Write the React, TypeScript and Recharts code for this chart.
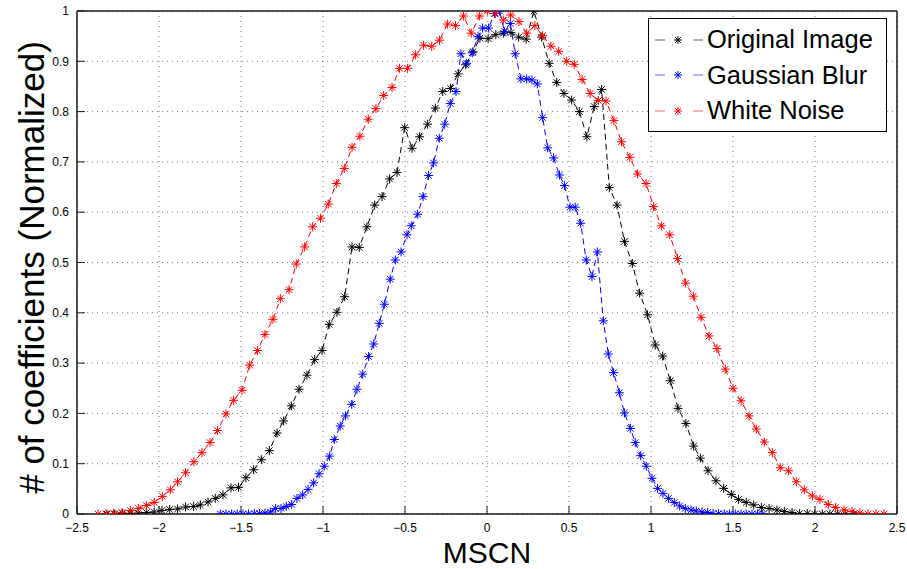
import React from "react";
import { LineChart, Line, XAxis, YAxis, CartesianGrid, Legend, Label } from "recharts";

const xTicks = [-2.5, -2, -1.5, -1, -0.5, 0, 0.5, 1, 1.5, 2, 2.5];
const yTicks = [0, 0.1, 0.2, 0.3, 0.4, 0.5, 0.6, 0.7, 0.8, 0.9, 1];

const originalImage: [number, number][] = [
  [-2.317, 0], [-2.27, 0], [-2.222, 0.001], [-2.175, 0.001], [-2.128, 0.002], [-2.077, 0.003],
  [-2.029, 0.004], [-1.982, 0.007], [-1.935, 0.009], [-1.887, 0.01], [-1.838, 0.014], [-1.789, 0.015],
  [-1.748, 0.018], [-1.701, 0.024], [-1.657, 0.031], [-1.61, 0.038], [-1.561, 0.052], [-1.515, 0.053],
  [-1.47, 0.072], [-1.423, 0.088], [-1.376, 0.108], [-1.327, 0.126], [-1.28, 0.161], [-1.24, 0.185],
  [-1.193, 0.215], [-1.146, 0.248], [-1.098, 0.276], [-1.051, 0.307], [-1.006, 0.325], [-0.962, 0.377],
  [-0.915, 0.401], [-0.868, 0.432], [-0.823, 0.531], [-0.779, 0.53], [-0.732, 0.571], [-0.685, 0.614],
  [-0.64, 0.631], [-0.594, 0.666], [-0.549, 0.679], [-0.502, 0.768], [-0.457, 0.727], [-0.411, 0.75],
  [-0.362, 0.775], [-0.315, 0.807], [-0.27, 0.84], [-0.222, 0.846], [-0.176, 0.875], [-0.13, 0.893],
  [-0.085, 0.919], [-0.043, 0.946], [0.007, 0.945], [0.054, 0.953], [0.1, 0.956], [0.146, 0.957],
  [0.193, 0.948], [0.239, 0.944], [0.286, 1.0], [0.333, 0.948], [0.379, 0.896], [0.425, 0.858],
  [0.469, 0.836], [0.516, 0.823], [0.563, 0.8], [0.609, 0.75], [0.654, 0.81], [0.699, 0.844],
  [0.746, 0.649], [0.793, 0.614], [0.838, 0.542], [0.886, 0.498], [0.931, 0.439], [0.979, 0.396],
  [1.026, 0.336], [1.071, 0.314], [1.118, 0.265], [1.165, 0.21], [1.213, 0.18], [1.26, 0.135],
  [1.301, 0.111], [1.348, 0.086], [1.396, 0.066], [1.443, 0.051], [1.49, 0.039], [1.534, 0.029],
  [1.581, 0.023], [1.626, 0.018], [1.673, 0.013], [1.72, 0.011], [1.768, 0.008], [1.813, 0.005],
  [1.86, 0.003], [1.906, 0.001], [1.953, 0.001], [1.998, 0], [2.045, 0], [2.091, 0],
  [2.138, 0], [2.185, 0], [2.235, 0],
];

const gaussianBlur: [number, number][] = [
  [-1.626, 0], [-1.591, 0], [-1.557, 0], [-1.523, 0], [-1.488, 0], [-1.454, 0],
  [-1.419, 0.001], [-1.387, 0.001], [-1.354, 0.002], [-1.321, 0.004], [-1.289, 0.011], [-1.256, 0.011],
  [-1.224, 0.015], [-1.191, 0.019], [-1.159, 0.031], [-1.124, 0.038], [-1.091, 0.049], [-1.057, 0.062],
  [-1.024, 0.08], [-0.992, 0.095], [-0.96, 0.115], [-0.931, 0.148], [-0.895, 0.175], [-0.863, 0.195],
  [-0.825, 0.218], [-0.793, 0.248], [-0.758, 0.278], [-0.722, 0.313], [-0.691, 0.338], [-0.657, 0.379],
  [-0.626, 0.417], [-0.59, 0.467], [-0.559, 0.505], [-0.524, 0.521], [-0.488, 0.555], [-0.462, 0.573],
  [-0.423, 0.596], [-0.39, 0.631], [-0.356, 0.673], [-0.326, 0.698], [-0.291, 0.747], [-0.258, 0.775],
  [-0.224, 0.816], [-0.189, 0.84], [-0.159, 0.915], [-0.124, 0.896], [-0.09, 0.917], [-0.055, 0.949],
  [-0.027, 0.966], [0.01, 0.966], [0.045, 0.995], [0.077, 1.0], [0.107, 0.959], [0.142, 0.975],
  [0.172, 0.915], [0.207, 0.865], [0.242, 0.865], [0.274, 0.863], [0.307, 0.855], [0.339, 0.788],
  [0.37, 0.728], [0.406, 0.708], [0.442, 0.674], [0.472, 0.653], [0.506, 0.61], [0.538, 0.61],
  [0.571, 0.578], [0.605, 0.505], [0.64, 0.472], [0.673, 0.521], [0.709, 0.384], [0.74, 0.318],
  [0.772, 0.281], [0.807, 0.241], [0.838, 0.201], [0.874, 0.17], [0.904, 0.142], [0.937, 0.116],
  [0.971, 0.095], [1.006, 0.071], [1.04, 0.051], [1.073, 0.041], [1.107, 0.031], [1.142, 0.023],
  [1.175, 0.016], [1.209, 0.011], [1.244, 0.008], [1.276, 0.006], [1.311, 0.004], [1.345, 0.003],
  [1.378, 0.001], [1.412, 0.001], [1.447, 0], [1.479, 0], [1.514, 0], [1.549, 0],
  [1.581, 0], [1.616, 0], [1.65, 0], [1.681, 0],
];

const whiteNoise: [number, number][] = [
  [-2.372, 0], [-2.323, 0], [-2.277, 0.001], [-2.226, 0.003], [-2.175, 0.007], [-2.126, 0.011],
  [-2.077, 0.017], [-2.029, 0.023], [-1.98, 0.035], [-1.931, 0.048], [-1.887, 0.064], [-1.838, 0.082],
  [-1.787, 0.104], [-1.738, 0.122], [-1.689, 0.142], [-1.643, 0.166], [-1.592, 0.199], [-1.545, 0.226],
  [-1.494, 0.246], [-1.447, 0.296], [-1.4, 0.325], [-1.354, 0.357], [-1.305, 0.387], [-1.26, 0.428],
  [-1.207, 0.446], [-1.163, 0.497], [-1.112, 0.531], [-1.063, 0.571], [-1.015, 0.588], [-0.968, 0.616],
  [-0.919, 0.657], [-0.87, 0.687], [-0.823, 0.729], [-0.775, 0.751], [-0.724, 0.785], [-0.677, 0.806],
  [-0.63, 0.832], [-0.579, 0.848], [-0.533, 0.886], [-0.484, 0.886], [-0.435, 0.913], [-0.387, 0.932],
  [-0.337, 0.93], [-0.29, 0.942], [-0.24, 0.974], [-0.192, 0.971], [-0.143, 0.99], [-0.096, 0.956],
  [-0.045, 0.99], [0.002, 1.0], [0.051, 0.995], [0.099, 0.982], [0.144, 0.992], [0.195, 0.979],
  [0.242, 0.956], [0.292, 0.971], [0.339, 0.951], [0.39, 0.93], [0.437, 0.92], [0.486, 0.9],
  [0.532, 0.894], [0.58, 0.864], [0.629, 0.836], [0.679, 0.822], [0.726, 0.821], [0.774, 0.782],
  [0.82, 0.74], [0.871, 0.709], [0.918, 0.676], [0.97, 0.657], [1.016, 0.611], [1.063, 0.573],
  [1.114, 0.555], [1.162, 0.508], [1.211, 0.459], [1.258, 0.433], [1.305, 0.391], [1.354, 0.354],
  [1.402, 0.329], [1.453, 0.288], [1.5, 0.25], [1.549, 0.225], [1.598, 0.195], [1.642, 0.169],
  [1.691, 0.143], [1.74, 0.122], [1.788, 0.092], [1.839, 0.086], [1.886, 0.064], [1.935, 0.048],
  [1.984, 0.036], [2.03, 0.029], [2.081, 0.019], [2.126, 0.013], [2.177, 0.008], [2.226, 0.005],
  [2.274, 0.002], [2.323, 0], [2.372, 0], [2.421, 0],
];

const SERIES = [
  { name: "Original Image", points: originalImage, color: "#000000" },
  { name: "Gaussian Blur", points: gaussianBlur, color: "#0000ff" },
  { name: "White Noise", points: whiteNoise, color: "#ff0000" },
];

const FONT = '"Liberation Sans", Arial, Helvetica, sans-serif';
const TICK = { fontSize: 12, fill: "#000", fontFamily: FONT };
const AXIS_LINE = { stroke: "#1a1a1a", strokeWidth: 1.5 };
const TICK_LINE = { stroke: "#1a1a1a", strokeWidth: 1 };

const fmt = (v: number) => String(v).replace("-", "\u2212");

// matlab-ish '*' marker
function Star({ cx, cy, color, r = 4.5 }: { cx?: number; cy?: number; color: string; r?: number }) {
  if (cx == null || cy == null) return null;
  const d = r * 0.72;
  return (
    <path
      d={`M${cx - r},${cy}H${cx + r}M${cx},${cy - r}V${cy + r}M${cx - d},${cy - d}L${cx + d},${cy + d}M${cx - d},${cy + d}L${cx + d},${cy - d}`}
      stroke={color}
      strokeWidth={1}
      fill="none"
    />
  );
}

function LegendBox() {
  return (
    <div
      style={{
        border: "1px solid #000",
        background: "#fff",
        width: 239,
        height: 114,
        boxSizing: "border-box",
        paddingTop: 3,
      }}
    >
      {SERIES.map((s) => (
        <div key={s.name} style={{ display: "flex", alignItems: "center", height: 35.5 }}>
          <svg width={58} height={20} style={{ flex: "none" }}>
            <line x1={6} x2={16} y1={10} y2={10} stroke={s.color} strokeOpacity={0.6} />
            <Star cx={29} cy={10} color={s.color} r={4} />
            <line x1={44} x2={54} y1={10} y2={10} stroke={s.color} strokeOpacity={0.6} />
          </svg>
          <span style={{ fontFamily: FONT, fontSize: 25.5, color: "#000", whiteSpace: "nowrap" }}>
            {s.name}
          </span>
        </div>
      ))}
    </div>
  );
}

export default function App() {
  return (
    <div style={{ position: "absolute", left: 0, top: 0, background: "#fff" }}>
      <LineChart width={907} height={569} margin={{ top: 10, right: 9, left: 37, bottom: 0 }}>
        <CartesianGrid stroke="#777" strokeDasharray="1 4" />
        <XAxis
          dataKey="x"
          type="number"
          domain={[-2.5, 2.5]}
          ticks={xTicks}
          allowDataOverflow
          tickFormatter={fmt}
          tick={TICK}
          tickSize={-8}
          tickMargin={17}
          axisLine={AXIS_LINE}
          tickLine={TICK_LINE}
          height={55}
        >
          <Label
            content={(p: any) => {
              const vb = p.viewBox || { x: 77, y: 514, width: 820, height: 55 };
              return (
                <text
                  x={vb.x + vb.width / 2}
                  y={vb.y + 48.5}
                  textAnchor="middle"
                  fontSize={30}
                  fontFamily={FONT}
                  fill="#000"
                >
                  MSCN
                </text>
              );
            }}
          />
        </XAxis>
        <XAxis
          xAxisId="top"
          orientation="top"
          type="number"
          domain={[-2.5, 2.5]}
          ticks={xTicks}
          allowDataOverflow
          tick={false}
          tickSize={-8}
          axisLine={AXIS_LINE}
          tickLine={TICK_LINE}
          height={1}
        />
        <YAxis
          type="number"
          domain={[0, 1]}
          ticks={yTicks}
          allowDataOverflow
          tick={TICK}
          tickSize={-8}
          tickMargin={16}
          axisLine={AXIS_LINE}
          tickLine={TICK_LINE}
          width={40}
        >
          <Label
            content={(p: any) => {
              const vb = p.viewBox || { x: 37, y: 11, width: 40, height: 503 };
              const cx = vb.x + 7;
              const cy = vb.y + vb.height / 2 + 5;
              return (
                <text
                  x={cx}
                  y={cy}
                  transform={`rotate(-90 ${cx} ${cy})`}
                  textAnchor="middle"
                  fontSize={35}
                  fontFamily={FONT}
                  fill="#000"
                >
                  # of coefficients (Normalized)
                </text>
              );
            }}
          />
        </YAxis>
        <YAxis
          yAxisId="right"
          orientation="right"
          type="number"
          domain={[0, 1]}
          ticks={yTicks}
          allowDataOverflow
          tick={false}
          tickSize={-8}
          axisLine={AXIS_LINE}
          tickLine={TICK_LINE}
          width={1}
        />
        {SERIES.map((s) => (
          <Line
            key={s.name}
            name={s.name}
            data={s.points.map(([x, y]) => ({ x, y }))}
            dataKey="y"
            type="linear"
            stroke={s.color}
            strokeWidth={1}
            strokeDasharray="6 4"
            isAnimationActive={false}
            dot={(p: any) => <Star key={`${s.name}-${p.index}`} cx={p.cx} cy={p.cy} color={s.color} />}
            activeDot={false}
          />
        ))}
        <Legend
          layout="vertical"
          align="center"
          verticalAlign="middle"
          content={() => <LegendBox />}
          wrapperStyle={{ left: 648, top: 18, width: 239, right: "auto", bottom: "auto" }}
        />
      </LineChart>
    </div>
  );
}
